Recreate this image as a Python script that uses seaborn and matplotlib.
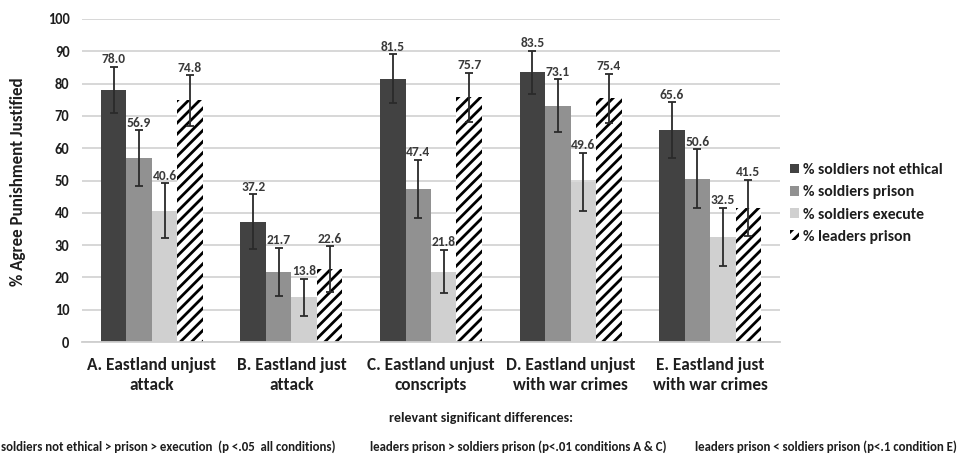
import matplotlib
matplotlib.use("Agg")
import matplotlib.pyplot as plt
from matplotlib.patches import Patch
import seaborn as sns
import pandas as pd
import numpy as np

categories = ["A. Eastland unjust\nattack", "B. Eastland just\nattack",
              "C. Eastland unjust\nconscripts", "D. Eastland unjust\nwith war crimes",
              "E. Eastland just\nwith war crimes"]
series = ["% soldiers not ethical", "% soldiers prison", "% soldiers execute", "% leaders prison"]
not_ethical = [78.0, 37.2, 81.5, 83.5, 65.6]
soldiers_prison = [56.9, 21.7, 47.4, 73.1, 50.6]
soldiers_execute = [40.6, 13.8, 21.8, 49.6, 32.5]
leaders_prison = [74.8, 22.6, 75.7, 75.4, 41.5]
err_not_ethical = [7.1, 8.5, 7.6, 6.6, 8.6]
err_soldiers_prison = [8.6, 7.4, 9.0, 8.2, 9.1]
err_soldiers_execute = [8.5, 5.8, 6.7, 9.0, 9.0]
err_leaders_prison = [7.8, 7.0, 7.6, 7.7, 8.8]
note_title = "relevant significant differences:"
notes = ["soldiers not ethical > prison > execution  (p <.05  all conditions)",
         "leaders prison > soldiers prison (p<.01 conditions A & C)",
         "leaders prison < soldiers prison (p<.1 condition E)"]

values = [not_ethical, soldiers_prison, soldiers_execute, leaders_prison]
errors = [err_not_ethical, err_soldiers_prison, err_soldiers_execute, err_leaders_prison]

rows = []
for s, vals in zip(series, values):
    for c, v in zip(categories, vals):
        rows.append({"condition": c, "series": s, "value": v})
df = pd.DataFrame(rows)

sns.set_theme(style="white")
fam = ["Carlito", "Lato", "DejaVu Sans"]
plt.rcParams["font.family"] = fam
plt.rcParams["hatch.linewidth"] = 2.0

colors = ["#424242", "#919191", "#d0d0d0", "#ffffff"]
txt_col = "#1e1e1e"

W, H = 959, 454
fig = plt.figure(figsize=(W / 100, H / 100), dpi=100)
renderer = fig.canvas.get_renderer()


def size_for(text, target_px, weight="bold", base=10.0):
    t = fig.text(0, 0, text, fontsize=base, fontweight=weight)
    w = t.get_window_extent(renderer).width
    t.remove()
    return base * target_px / w


ax = fig.add_axes([82 / W, 1 - 342 / H, (780 - 82) / W, (342 - 19) / H])

sns.barplot(data=df, x="condition", y="value", hue="series", order=categories,
            hue_order=series, palette=colors, errorbar=None, width=0.73,
            saturation=1, ax=ax, linewidth=0, legend=False)

val_fs = size_for("78.0", 24)
bar_containers = list(ax.containers)
for i, cont in enumerate(bar_containers):
    for j, bar in enumerate(cont):
        if i == 3:
            bar.set_hatch("///")
            bar.set_edgecolor("black")
            bar.set_facecolor("white")
            bar.set_linewidth(0)
        xc = bar.get_x() + bar.get_width() / 2
        v = values[i][j]
        e = errors[i][j]
        ax.errorbar(xc, v, yerr=e, color="#2a2a2a", capsize=2.6, elinewidth=1.3,
                    capthick=1.3, zorder=5)
        ax.annotate(f"{v:.1f}", (xc, v + e), xytext=(0, 5.5), textcoords="offset points",
                    ha="center", va="center", fontsize=val_fs, fontweight="bold",
                    color="#3a3a3a", zorder=6)

ax.set_ylim(0, 100)
ax.set_xlim(-0.5, 4.5)
ax.set_yticks(range(0, 101, 10))
ax.yaxis.grid(True, color="#d4d4d4", linewidth=1.3)
ax.set_axisbelow(True)
for sp in ["top", "right", "left"]:
    ax.spines[sp].set_visible(False)
ax.spines["bottom"].set_color("#cfcfcf")
ax.spines["bottom"].set_linewidth(1.3)
ax.tick_params(axis="both", length=0)

ytick_fs = size_for("100", 22)
xtick_fs = size_for("A. Eastland unjust", 129)
ax.tick_params(axis="y", labelsize=ytick_fs, pad=9)
ax.tick_params(axis="x", labelsize=xtick_fs, pad=11)
for t in ax.get_yticklabels():
    t.set_fontweight("bold")
    t.set_color(txt_col)
for t in ax.get_xticklabels():
    t.set_fontweight("bold")
    t.set_color(txt_col)
    t.set_linespacing(1.25)
ax.set_xlabel("")

ylab_fs = size_for("% Agree Punishment Justified", 210)
ax.set_ylabel("")
fig.text(18 / W, 1 - 182 / H, "% Agree Punishment Justified", rotation=90,
         ha="center", va="center", fontsize=ylab_fs, fontweight="bold", color=txt_col)

leg_fs = size_for("% soldiers not ethical", 140)
handles = []
for i, s in enumerate(series):
    if i == 3:
        handles.append(Patch(facecolor="white", edgecolor="black", hatch="///",
                             linewidth=0, label=s))
    else:
        handles.append(Patch(facecolor=colors[i], edgecolor="none", label=s))
em_px = leg_fs * 100 / 72
leg = fig.legend(handles=handles, loc="center left",
                 bbox_to_anchor=(790 / W, 1 - 203.5 / H), frameon=False,
                 fontsize=leg_fs, handlelength=9 / em_px, handleheight=9 / em_px,
                 handletextpad=4 / em_px, labelspacing=(24 - em_px) / em_px,
                 borderpad=0, borderaxespad=0)
for t in leg.get_texts():
    t.set_fontweight("bold")
    t.set_color(txt_col)

title_fs = size_for(note_title, 184)
fig.text(481 / W, 1 - 418 / H, note_title, ha="center",
         va="center", fontsize=title_fs, fontweight="bold", color=txt_col)
note_fs = size_for(notes[1], 298)
fig.text(1 / W, 1 - 447 / H, notes[0], ha="left", va="center", fontsize=note_fs,
         fontweight="bold", color=txt_col)
fig.text(370 / W, 1 - 447 / H, notes[1], ha="left", va="center", fontsize=note_fs,
         fontweight="bold", color=txt_col)
fig.text(957 / W, 1 - 447 / H, notes[2], ha="right", va="center", fontsize=note_fs,
         fontweight="bold", color=txt_col)

fig.savefig("out.png", dpi=100)
